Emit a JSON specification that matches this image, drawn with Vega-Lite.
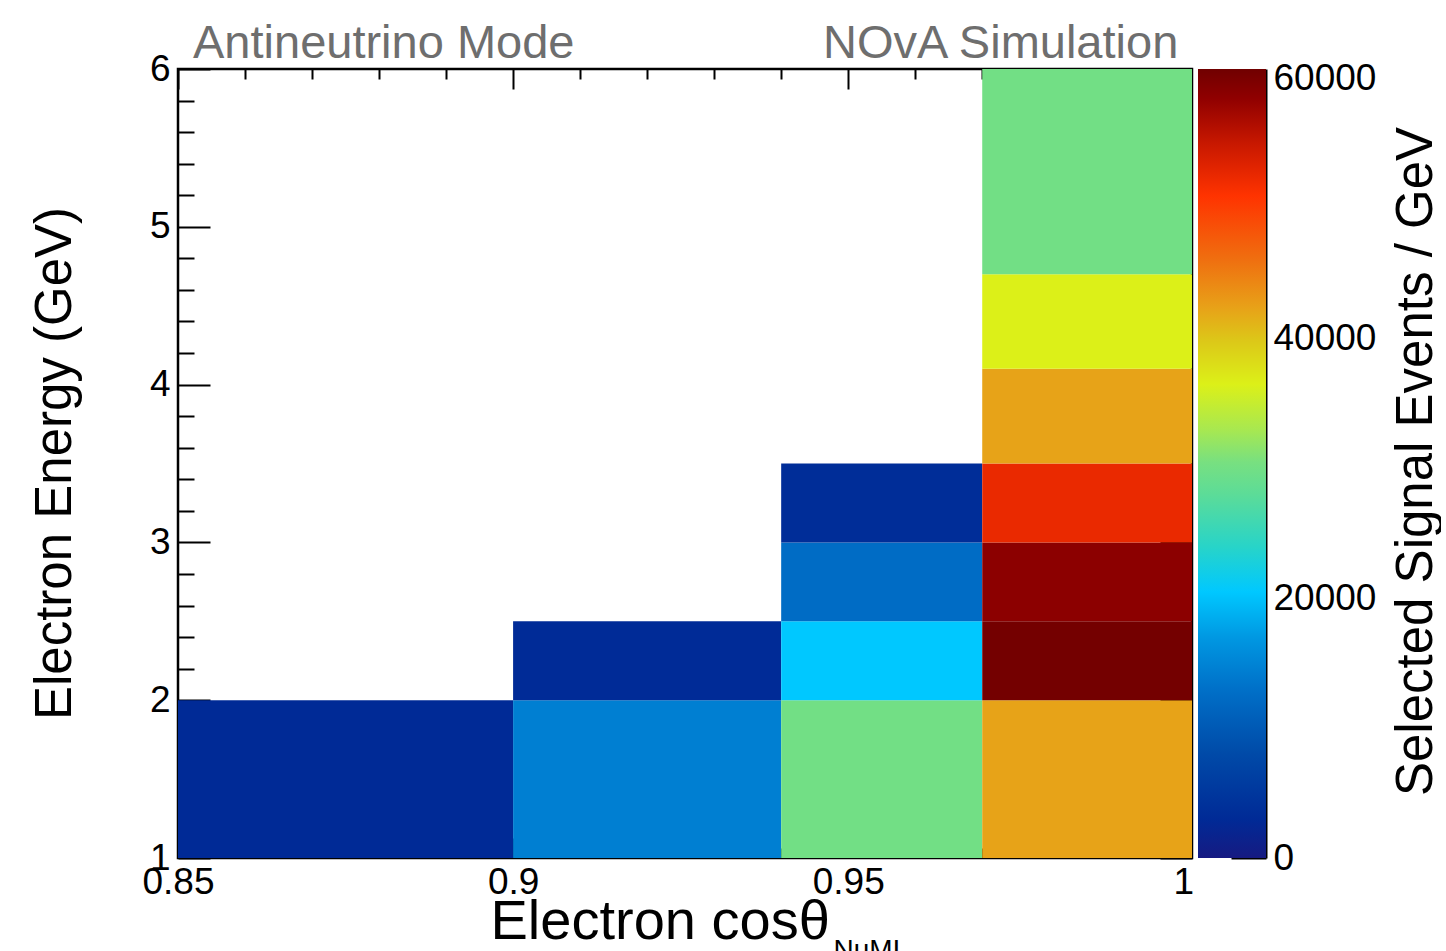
{
  "$schema": "https://vega.github.io/schema/vega-lite/v6.json",
  "background": "white",
  "padding": {"left": 27, "top": 18, "right": 0, "bottom": 0},
  "spacing": 6,
  "bounds": "flush",
  "config": {
    "view": {"stroke": null},
    "font": "Liberation Sans",
    "axis": {
      "labelFont": "Liberation Sans",
      "titleFont": "Liberation Sans",
      "labelColor": "black",
      "titleColor": "black",
      "tickColor": "black",
      "tickWidth": 2,
      "domain": false,
      "grid": false,
      "titleFontWeight": "normal",
      "labelFontSize": 37,
      "titleFontSize": 51,
      "labelOverlap": false,
      "labelBound": false,
      "labelFlush": false,
      "zindex": 1
    }
  },
  "hconcat": [
    {
      "width": 1014,
      "height": 789,
      "view": {"stroke": "black", "strokeWidth": 2.5},
      "data": {
        "values": [
          {"x0": 0.85, "x1": 0.9, "y0": 1, "y1": 2, "v": 3000},
          {"x0": 0.9, "x1": 0.94, "y0": 1, "y1": 2, "v": 14500},
          {"x0": 0.9, "x1": 0.94, "y0": 2, "y1": 2.5, "v": 3200},
          {"x0": 0.94, "x1": 0.97, "y0": 1, "y1": 2, "v": 30000},
          {"x0": 0.94, "x1": 0.97, "y0": 2, "y1": 2.5, "v": 20500},
          {"x0": 0.94, "x1": 0.97, "y0": 2.5, "y1": 3, "v": 12500},
          {"x0": 0.94, "x1": 0.97, "y0": 3, "y1": 3.5, "v": 3500},
          {"x0": 0.97, "x1": 1.0013, "y0": 1, "y1": 2, "v": 42300},
          {"x0": 0.97, "x1": 1.0013, "y0": 2, "y1": 2.5, "v": 60500},
          {"x0": 0.97, "x1": 1.0013, "y0": 2.5, "y1": 3, "v": 58800},
          {"x0": 0.97, "x1": 1.0013, "y0": 3, "y1": 3.5, "v": 52500},
          {"x0": 0.97, "x1": 1.0013, "y0": 3.5, "y1": 4.1, "v": 42300},
          {"x0": 0.97, "x1": 1.0013, "y0": 4.1, "y1": 4.7, "v": 36500},
          {"x0": 0.97, "x1": 1.0013, "y0": 4.7, "y1": 6, "v": 30000}
        ]
      },
      "layer": [
        {
          "mark": {"type": "rect"},
          "encoding": {
            "x": {
              "field": "x0",
              "type": "quantitative",
              "scale": {"domain": [0.85, 1.0013], "nice": false, "zero": false},
              "axis": {
                "orient": "bottom",
                "values": [0.85, 0.86, 0.87, 0.88, 0.89, 0.9, 0.91, 0.92, 0.93, 0.94, 0.95, 0.96, 0.97, 0.98, 0.99, 1],
                "labelExpr": "round(datum.value*100)%5==0 ? toString(round(datum.value*100)/100) : ''",
                "tickSize": {"condition": {"test": "round(datum.value*100)%5==0", "value": -20}, "value": -10},
                "labelPadding": 26,
                "labelBaseline": "top",
                "title": "Electron cosθ",
                "titleFontSize": 56,
                "titleAlign": "left",
                "titleBaseline": "alphabetic",
                "titleX": 312,
                "titleY": 80
              }
            },
            "x2": {"field": "x1"},
            "y": {
              "field": "y0",
              "type": "quantitative",
              "scale": {"domain": [1, 6], "nice": false, "zero": false},
              "axis": {
                "orient": "left",
                "values": [1, 1.2, 1.4, 1.6, 1.8, 2, 2.2, 2.4, 2.6, 2.8, 3, 3.2, 3.4, 3.6, 3.8, 4, 4.2, 4.4, 4.6, 4.8, 5, 5.2, 5.4, 5.6, 5.8, 6],
                "labelExpr": "abs(datum.value-round(datum.value))<0.001 ? toString(round(datum.value)) : ''",
                "tickSize": {"condition": {"test": "abs(datum.value-round(datum.value))<0.001", "value": -32}, "value": -16},
                "labelPadding": 40,
                "title": "Electron Energy (GeV)",
                "titleAngle": 270,
                "titleAlign": "center",
                "titleBaseline": "alphabetic",
                "titleX": -108,
                "titleY": 394
              }
            },
            "y2": {"field": "y1"},
            "color": {
              "field": "v",
              "type": "quantitative",
              "legend": null,
              "scale": {
                "type": "linear",
                "interpolate": "rgb",
                "domain": [0, 3000, 8000, 13000, 17000, 20500, 24000, 28000, 30500, 33000, 36500, 39800, 42500, 46000, 51000, 55000, 58500, 60770],
                "range": ["#161a82", "#002a96", "#004aa8", "#0070c8", "#0098e2", "#00c8ff", "#28d4c8", "#5cdc98", "#78e080", "#a8e850", "#dcf018", "#dcc818", "#e8a018", "#ef7010", "#ff3300", "#c81800", "#900000", "#700000"]
              }
            }
          }
        },
        {
          "data": {"values": [{"t": "Antineutrino Mode"}]},
          "mark": {"type": "text", "font": "Liberation Sans", "fontSize": 47, "color": "#6e6e6e", "align": "left", "baseline": "alphabetic", "dx": 15, "dy": -11},
          "encoding": {
            "x": {"datum": 0.85, "type": "quantitative", "axis": null},
            "y": {"datum": 6, "type": "quantitative", "axis": null},
            "text": {"field": "t"}
          }
        },
        {
          "data": {"values": [{"t": "NOvA Simulation"}]},
          "mark": {"type": "text", "font": "Liberation Sans", "fontSize": 47, "color": "#6e6e6e", "align": "right", "baseline": "alphabetic", "dx": -5, "dy": -11},
          "encoding": {
            "x": {
              "datum": 1,
              "type": "quantitative",
              "axis": {
                "orient": "top",
                "values": [0.85, 0.86, 0.87, 0.88, 0.89, 0.9, 0.91, 0.92, 0.93, 0.94, 0.95, 0.96, 0.97, 0.98, 0.99, 1],
                "labels": false,
                "title": null,
                "tickSize": {"condition": {"test": "round(datum.value*100)%5==0", "value": -20}, "value": -10}
              }
            },
            "y": {
              "datum": 6,
              "type": "quantitative",
              "axis": {
                "orient": "right",
                "values": [1, 1.2, 1.4, 1.6, 1.8, 2, 2.2, 2.4, 2.6, 2.8, 3, 3.2, 3.4, 3.6, 3.8, 4, 4.2, 4.4, 4.6, 4.8, 5, 5.2, 5.4, 5.6, 5.8, 6],
                "labels": false,
                "title": null,
                "tickSize": {"condition": {"test": "abs(datum.value-round(datum.value))<0.001", "value": -32}, "value": -16}
              }
            },
            "text": {"field": "t"}
          }
        },
        {
          "data": {"values": [{"t": "NuMI"}]},
          "mark": {"type": "text", "font": "Liberation Sans", "fontSize": 28, "color": "black", "align": "left", "baseline": "alphabetic", "dy": 101},
          "encoding": {
            "x": {"datum": 0.9478, "type": "quantitative", "axis": null},
            "y": {"datum": 1, "type": "quantitative", "axis": null},
            "text": {"field": "t"}
          }
        }
      ],
      "resolve": {"axis": {"x": "independent", "y": "independent"}}
    },
    {
      "width": 68,
      "height": 789,
      "view": {"stroke": null},
      "data": {"values": [{"lo": 0, "hi": 60770}]},
      "mark": {
        "type": "rect",
        "fill": {
          "gradient": "linear",
          "x1": 0, "y1": 1, "x2": 0, "y2": 0,
          "stops": [
            {"offset": 0, "color": "#161a82"},
            {"offset": 0.0494, "color": "#002a96"},
            {"offset": 0.1316, "color": "#004aa8"},
            {"offset": 0.2139, "color": "#0070c8"},
            {"offset": 0.2797, "color": "#0098e2"},
            {"offset": 0.3373, "color": "#00c8ff"},
            {"offset": 0.3949, "color": "#28d4c8"},
            {"offset": 0.4608, "color": "#5cdc98"},
            {"offset": 0.5019, "color": "#78e080"},
            {"offset": 0.5430, "color": "#a8e850"},
            {"offset": 0.6006, "color": "#dcf018"},
            {"offset": 0.6549, "color": "#dcc818"},
            {"offset": 0.6994, "color": "#e8a018"},
            {"offset": 0.7570, "color": "#ef7010"},
            {"offset": 0.8392, "color": "#ff3300"},
            {"offset": 0.9051, "color": "#c81800"},
            {"offset": 0.9626, "color": "#900000"},
            {"offset": 1, "color": "#700000"}
          ]
        }
      },
      "encoding": {
        "x": {"datum": 0, "type": "quantitative", "scale": {"domain": [0, 1], "nice": false, "zero": false}, "axis": null},
        "x2": {"datum": 1},
        "y": {
          "field": "lo",
          "type": "quantitative",
          "scale": {"domain": [0, 60770], "nice": false, "zero": false},
          "axis": {
            "orient": "right",
            "values": [0, 20000, 40000, 60000],
            "format": "d",
            "tickSize": -35,
            "labelPadding": 42,
            "domain": true,
            "domainColor": "black",
            "domainWidth": 2,
            "title": "Selected Signal Events / GeV",
            "titleAngle": 270,
            "titleAlign": "center",
            "titleBaseline": "alphabetic",
            "titleX": 165,
            "titleY": 392
          }
        },
        "y2": {"field": "hi"}
      }
    }
  ]
}
